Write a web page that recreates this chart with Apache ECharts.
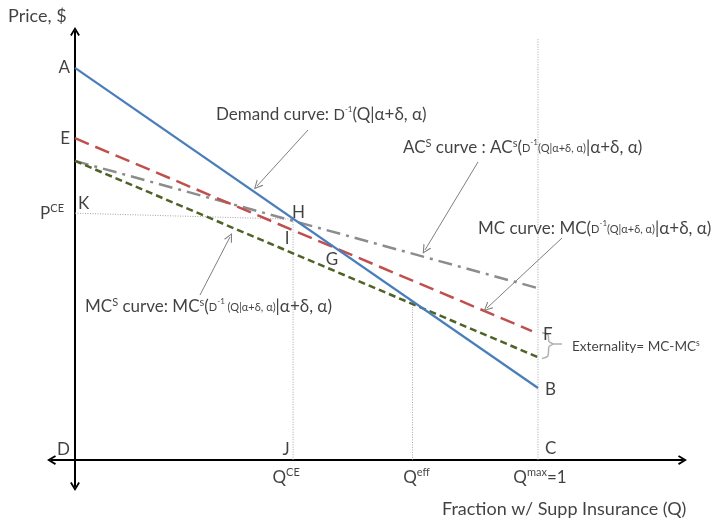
<!DOCTYPE html>
<html><head><meta charset="utf-8">
<script src="https://cdn.jsdelivr.net/npm/echarts@6/dist/echarts.min.js"></script>
<style>html,body{margin:0;padding:0;background:#fff}#c{width:713px;height:523px}</style>
</head><body><div id="c"></div>
<script>
// ---------- data (Q = fraction with supplemental insurance, P = price, arbitrary units) ----------
const demandQ = [0, 1];
const demandP = [91.5, 16.8];
const mcQ = [0, 0.987];
const mcP = [75.1, 30.1];
const mcsQ = [0, 1];
const mcsP = [69.8, 24.0];
const acsQ = [0, 1];
const acsP = [69.8, 40.1];
const qMarks = [0.471, 0.729, 1];          // Q^CE, Q^eff, Q^max
const qMarkTops = [56.2, 36.9, 98.2];      // upper ends of dotted guides
const qMarkLabels = ['{t|Q}{sup|CE}', '{t|Q}{sup|eff}', '{t|Q}{sup|max}{t|=1}'];
const pceGuide = [57.6, 56.2];             // P^CE dotted guide: at Q=0 and at Q^CE

// ---------- layout helpers ----------
const FONT = 'Lato';
const X_MIN = -0.05076, X_MAX = 1.3121, Y_MIN = -6.18, Y_MAX = 100;
const ax = px => (px - 75) / 463;
const ay = py => (460 - py) / 4.285;
const CHEV = 'path://M0,82 L50,0 L100,82 L84,92 L50,34 L16,92 Z';
const THIN_CHEV = 'path://M0,100 L50,0 L100,100 L86,100 L50,26 L14,100 Z';

const zip = (xs, ys) => xs.map((x, i) => [x, ys[i]]);

function lineAt(q, xs, ys) { return ys[0] + (ys[1] - ys[0]) * (q - xs[0]) / (xs[1] - xs[0]); }
function intersect(x1, y1, x2, y2) {
  const s1 = (y1[1] - y1[0]) / (x1[1] - x1[0]);
  const s2 = (y2[1] - y2[0]) / (x2[1] - x2[0]);
  const q = (y2[0] - y1[0]) / (s1 - s2);
  return [q, y1[0] + s1 * q];
}
const G = intersect(demandQ, demandP, mcQ, mcP);

const rich = {
  t: { fontSize: 17, fontFamily: FONT, color: '#111', lineHeight: 20 },
  tl: { fontSize: 18, fontFamily: FONT, color: '#111', lineHeight: 20 },
  t2: { fontSize: 15, fontFamily: FONT, color: '#111', lineHeight: 20 },
  sup: { fontSize: 11, fontFamily: FONT, color: '#111', lineHeight: 12, verticalAlign: 'top' },
  s: { fontSize: 11, fontFamily: FONT, color: '#111', lineHeight: 20 },
  ss: { fontSize: 8, fontFamily: FONT, color: '#111', lineHeight: 14, verticalAlign: 'top' },
  e: { fontSize: 13.6, fontFamily: FONT, color: '#111', lineHeight: 16 },
  esup: { fontSize: 8.5, fontFamily: FONT, color: '#111', lineHeight: 10, verticalAlign: 'top' }
};

const labels = [
  { at: [ax(8), ay(16)], text: '{tl|Price, $}', align: 'left', off: [0, 0] },
  { at: [ax(442), ay(509)], text: '{tl|Fraction w/ Supp Insurance (Q)}', align: 'left', off: [0, 0] },
  { at: [0, demandP[0]], text: '{t|A}', align: 'right', off: [-5, 0] },
  { at: [0, mcP[0]], text: '{t|E}', align: 'right', off: [-5, 0] },
  { at: [0, pceGuide[0]], text: '{t|P}{sup|CE}', align: 'right', off: [-11, 0] },
  { at: [0, pceGuide[0]], text: '{t|K}', align: 'left', off: [3, -10] },
  { at: [qMarks[0], pceGuide[1]], text: '{t|H}', align: 'left', off: [-1, -7] },
  { at: [qMarks[0], pceGuide[1]], text: '{t|I}', align: 'center', off: [-6, 19] },
  { at: G, text: '{t|G}', align: 'center', off: [-4, 11] },
  { at: [0, 0], text: '{t|D}', align: 'right', off: [-5, -11] },
  { at: [qMarks[0], 0], text: '{t|J}', align: 'center', off: [-7, -11] },
  { at: [qMarks[2], 0], text: '{t|C}', align: 'left', off: [7, -12] },
  { at: [demandQ[1], demandP[1]], text: '{t|B}', align: 'left', off: [7, 1] },
  { at: [mcQ[1], mcP[1]], text: '{t|F}', align: 'left', off: [11, 3] },
  { at: [qMarks[0], 0], text: qMarkLabels[0], align: 'center', off: [-7, 17] },
  { at: [qMarks[1], 0], text: qMarkLabels[1], align: 'center', off: [4, 17] },
  { at: [qMarks[2], 0], text: qMarkLabels[2], align: 'center', off: [2, 17] },
  { at: [ax(216), ay(115)], text: '{t|Demand curve: }{t2|D}{ss|-1}{t|(Q|α+δ, α)}', align: 'left', off: [0, 0] },
  { at: [ax(403), ay(148)], text: '{t|AC}{sup|S}{t| curve : AC}{sup|s}{t|(}{s|D}{ss|-1}{s|(Q|α+δ, α)}{t||α+δ, α)}', align: 'left', off: [0, 0] },
  { at: [ax(478), ay(229)], text: '{t|MC curve: MC(}{s|D}{ss|-1}{s|(Q|α+δ, α)}{t||α+δ, α)}', align: 'left', off: [0, 0] },
  { at: [ax(85), ay(307)], text: '{t|MC}{sup|S}{t| curve: MC}{sup|s}{t|(}{s|D}{ss|-1}{s| (Q|α+δ, α)}{t||α+δ, α)}', align: 'left', off: [0, 0] },
  { at: [ax(572), ay(347)], text: '{e|Externality= MC-MC}{esup|s}', align: 'left', off: [0, 0] }
];

const pointers = [
  { from: [ax(308), ay(130)], to: [ax(257), ay(186)] },
  { from: [ax(478), ay(162)], to: [ax(425), ay(250)] },
  { from: [ax(562), ay(238)], to: [ax(487), ay(308)] },
  { from: [ax(200), ay(295)], to: [ax(230), ay(237)] }
];

const braceTop = mcP[1], braceBot = lineAt(1, mcsQ, mcsP);
const braceMid = (braceTop + braceBot) / 2;
const brace = [
  [ax(542), braceTop - 0.4], [ax(548), braceTop - 0.9], [ax(549), braceMid + 0.6],
  [ax(553), braceMid], [ax(549), braceMid - 0.6], [ax(548), braceBot + 0.3], [ax(542), braceBot - 0.3]
];
const braceStub = [[ax(553), braceMid], [ax(562), braceMid]];

const guideStyle = { color: '#a6a6a6', width: 1, type: [1, 1.5] };
const guide = (pts) => ({ type: 'line', data: pts, symbol: 'none', silent: true, lineStyle: guideStyle, z: 1 });

const option = {
  animation: false,
  backgroundColor: '#fff',
  grid: { left: 51.5, right: 30.5, top: 31.5, bottom: 36.5, containLabel: false, outerBoundsMode: 'none' },
  xAxis: {
    type: 'value', min: X_MIN, max: X_MAX,
    axisLine: { show: true, onZero: true, lineStyle: { color: '#000', width: 2 }, symbol: [CHEV, CHEV], symbolSize: [10, 9] },
    axisTick: { show: false }, axisLabel: { show: false }, splitLine: { show: false }
  },
  yAxis: {
    type: 'value', min: Y_MIN, max: Y_MAX,
    axisLine: { show: true, onZero: true, lineStyle: { color: '#000', width: 2 }, symbol: [CHEV, CHEV], symbolSize: [10, 9] },
    axisTick: { show: false }, axisLabel: { show: false }, splitLine: { show: false }
  },
  series: [
    guide([[0, pceGuide[0]], [qMarks[0], pceGuide[1]]]),
    guide([[qMarks[0], qMarkTops[0]], [qMarks[0], 0]]),
    guide([[qMarks[1], qMarkTops[1]], [qMarks[1], 0]]),
    guide([[qMarks[2], qMarkTops[2]], [qMarks[2], 0]]),
    { name: 'AC^S', type: 'line', data: zip(acsQ, acsP), symbol: 'none', z: 3,
      lineStyle: { color: '#8c8c8c', width: 2.5, type: [14, 6, 3, 6] } },
    { name: 'MC^S', type: 'line', data: zip(mcsQ, mcsP), symbol: 'none', z: 3,
      lineStyle: { color: '#4f6228', width: 2.5, type: [7, 4] } },
    { name: 'MC', type: 'line', data: zip(mcQ, mcP), symbol: 'none', z: 3,
      lineStyle: { color: '#c0504d', width: 2.5, type: [15, 7] } },
    { name: 'Demand', type: 'line', data: zip(demandQ, demandP), symbol: 'none', z: 4,
      lineStyle: { color: '#4a7ebb', width: 2.25 } },
    { type: 'lines', coordinateSystem: 'cartesian2d', silent: true, z: 5,
      data: pointers.map(p => ({ coords: [p.from, p.to] })),
      symbol: ['none', THIN_CHEV], symbolSize: 9,
      lineStyle: { color: '#808080', width: 1, opacity: 1, curveness: 0 } },
    { type: 'line', data: brace, symbol: 'none', smooth: 0.3, silent: true,
      lineStyle: { color: '#b0b0b0', width: 1.5 } },
    { type: 'line', data: braceStub, symbol: 'none', silent: true,
      lineStyle: { color: '#b0b0b0', width: 1.5 } },
    { type: 'scatter', clip: false, silent: true, symbolSize: 0, z: 10,
      data: labels.map(l => ({
        value: l.at,
        label: { show: true, position: 'inside', align: l.align, verticalAlign: 'middle',
                 offset: l.off, formatter: l.text, rich: rich }
      }))
    }
  ]
};
echarts.init(document.getElementById('c'), null, { renderer: 'canvas' }).setOption(option);
</script></body></html>
